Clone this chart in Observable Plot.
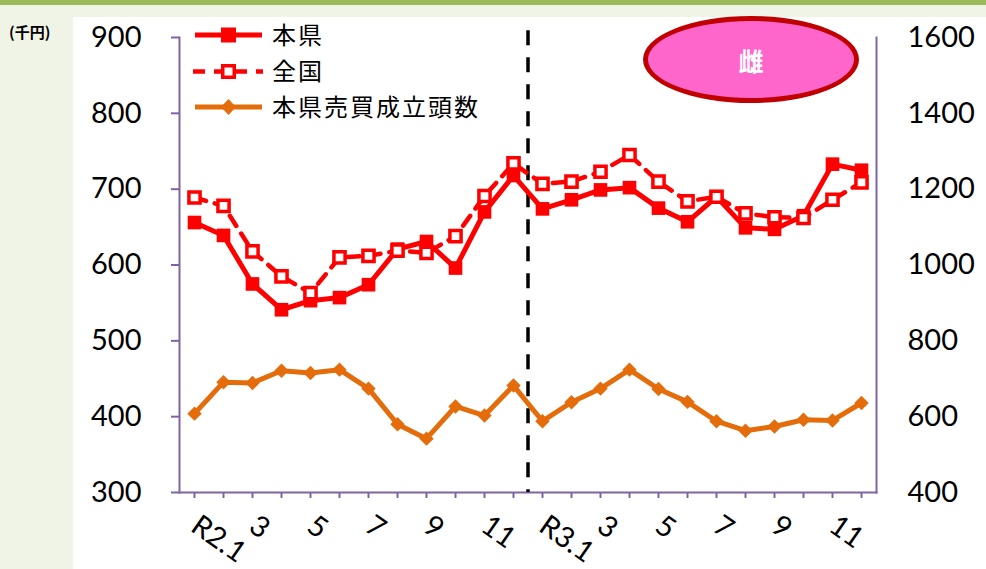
<!DOCTYPE html>
<html><head><meta charset="utf-8">
<script src="https://cdn.jsdelivr.net/npm/d3@7"></script>
<script src="https://cdn.jsdelivr.net/npm/@observablehq/plot@0.6"></script>
<style>
body{margin:0;}
#wrap{position:relative;width:986px;height:569px;background:#eff4e6;overflow:hidden;font-family:"Noto Sans CJK JP",sans-serif;}
#topbar{position:absolute;left:0;top:0;width:986px;height:5px;background:#9bbb59;}
#panel{position:absolute;left:73px;top:17px;width:913px;height:552px;background:#fff;}
#unit{position:absolute;left:9px;top:21px;font-size:15px;font-weight:bold;color:#000;}
#chart,#legend{position:absolute;left:0;top:0;}
#badge{position:absolute;left:643px;top:16px;width:206px;height:77px;border:5px solid #c00000;border-radius:50%;background:#ff66cc;color:#fff;font-weight:bold;font-size:25px;display:flex;align-items:center;justify-content:center;}
</style></head>
<body>
<div id="wrap">
  <div id="topbar"></div>
  <div id="panel"></div>
  <div id="unit">(千円)</div>
  <div id="chart"></div>
  <svg id="legend" width="986" height="569"></svg>
  <div id="badge">雌</div>
</div>
<script>
const months = ["R2.1","R2.2","R2.3","R2.4","R2.5","R2.6","R2.7","R2.8","R2.9","R2.10","R2.11","R2.12",
                "R3.1","R3.2","R3.3","R3.4","R3.5","R3.6","R3.7","R3.8","R3.9","R3.10","R3.11","R3.12"];
const xTickLabels = ["R2.1","","3","","5","","7","","9","","11","","R3.1","","3","","5","","7","","9","","11",""];
const kenPrice = [656,639,575,541,553,557,574,621,631,596,670,718, 674,686,699,702,675,657,690,649,647,665,733,725];
const zenkokuPrice = [689,678,618,585,563,610,612,619,616,638,691,734, 707,710,723,745,710,684,690,668,663,662,686,709];
const kenHead = [608,691,689,721,715,724,674,580,542,627,603,682, 588,638,674,724,673,639,588,563,574,592,590,636];
const leftTicks = [300,400,500,600,700,800,900];
const rightTicks = [400,600,800,1000,1200,1400,1600];
const seriesNames = ["本県","全国","本県売買成立頭数"];
const badgeText = "雌";

const purple = "#8064a2", red = "#ff0000", orange = "#e46c0a";
const labelOf = new Map(months.map((m,i)=>[m, xTickLabels[i]]));
const rightOf = new Map(leftTicks.map((t,i)=>[t, String(rightTicks[i])]));
// map head counts (right axis 400..1600) onto left scale (300..900)
const toLeft = v => 300 + (v - 400) * (900 - 300) / (1600 - 400);

const priceRows = months.map((m,i)=>({m, ken: kenPrice[i], zen: zenkokuPrice[i], head: toLeft(kenHead[i])}));

const plot = Plot.plot({
  width: 986, height: 569,
  marginLeft: 179, marginRight: 110, marginTop: 37, marginBottom: 77,
  style: {background: "transparent", fontFamily: "Lato, sans-serif", fontSize: "29px", color: "#000", overflow: "visible"},
  x: {type: "point", domain: months, padding: 0.46},
  y: {domain: [300, 900]},
  marks: [
    Plot.frame({anchor: "left", stroke: purple, strokeWidth: 2}),
    Plot.frame({anchor: "right", stroke: purple, strokeWidth: 2}),
    Plot.frame({anchor: "bottom", stroke: purple, strokeWidth: 2}),
    Plot.axisY({ticks: leftTicks, tickSize: 8, tickPadding: 30, tickFormat: d => String(d), stroke: purple, strokeWidth: 2, fill: "#000", label: null, letterSpacing: 3}),
    Plot.axisY({anchor: "right", ticks: leftTicks, tickSize: 0, tickPadding: 31, tickFormat: d => rightOf.get(d), fill: "#000", label: null, letterSpacing: 3}),
    Plot.axisX({ticks: months, tickSize: 6, tickPadding: 24, tickRotate: 35, tickFormat: d => labelOf.get(d), stroke: purple, strokeWidth: 2, fill: "#000", label: null}),
    Plot.ruleX(["R3.1"], {y1: 909, y2: 300, dx: -14.5, stroke: "#000", strokeWidth: 3.5, strokeDasharray: "15,12"}),
    Plot.line(priceRows, {x: "m", y: "head", stroke: orange, strokeWidth: 5}),
    Plot.dot(priceRows, {x: "m", y: "head", symbol: "diamond2", r: 6.5, fill: orange}),
    Plot.line(priceRows, {x: "m", y: "zen", stroke: red, strokeWidth: 4.5, strokeDasharray: "12,9"}),
    Plot.line(priceRows, {x: "m", y: "ken", stroke: red, strokeWidth: 5}),
    Plot.dot(priceRows, {x: "m", y: "ken", symbol: "square", r: 7.7, fill: red}),
    Plot.dot(priceRows, {x: "m", y: "zen", symbol: "square", r: 6.3, fill: "#fff", stroke: red, strokeWidth: 3.5})
  ]
});
document.getElementById("chart").appendChild(plot);

// legend
const lg = d3.select("#legend");
const rows = [35, 71.5, 107];
const lx1 = 195, lx2 = 262, lc = 228.5, tx = 272;
lg.append("line").attr("x1",lx1).attr("x2",lx2).attr("y1",rows[0]).attr("y2",rows[0]).attr("stroke",red).attr("stroke-width",5);
lg.append("rect").attr("x",lc-7.5).attr("y",rows[0]-7.5).attr("width",15).attr("height",15).attr("fill",red);
lg.append("line").attr("x1",193).attr("x2",263).attr("y1",rows[1]).attr("y2",rows[1]).attr("stroke",red).attr("stroke-width",4.5).attr("stroke-dasharray","12,9");
lg.append("rect").attr("x",lc-5.75).attr("y",rows[1]-5.75).attr("width",11.5).attr("height",11.5).attr("fill","#fff").attr("stroke",red).attr("stroke-width",3.5);
lg.append("line").attr("x1",lx1).attr("x2",lx2).attr("y1",rows[2]).attr("y2",rows[2]).attr("stroke",orange).attr("stroke-width",5);
lg.append("path").attr("d",`M${lc},${rows[2]-8}L${lc+7.5},${rows[2]}L${lc},${rows[2]+8}L${lc-7.5},${rows[2]}Z`).attr("fill",orange);
seriesNames.forEach((s,i)=>{
  lg.append("text").attr("x",tx).attr("y",rows[i]).attr("dy","0.36em").attr("font-size","24px").attr("letter-spacing","2px")
    .attr("font-family","Noto Sans CJK JP, sans-serif").attr("fill","#000").text(s);
});
</script>
</body></html>
